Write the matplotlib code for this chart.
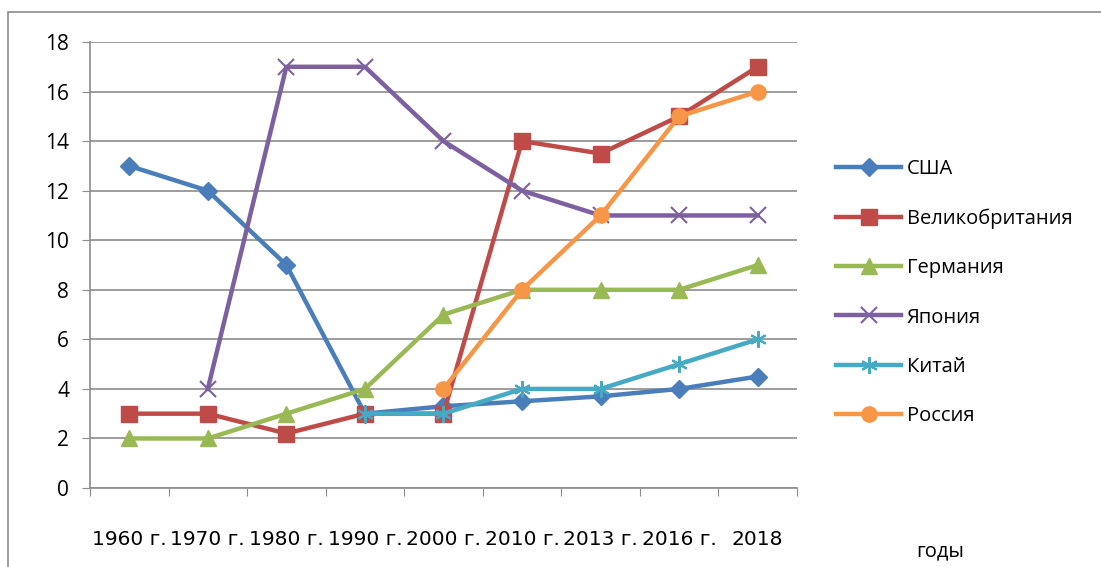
import matplotlib.pyplot as plt
import numpy as np
from matplotlib.patches import Rectangle

# данные
years = ['1960 г.', '1970 г.', '1980 г.', '1990 г.', '2000 г.', '2010 г.', '2013 г.', '2016 г.', '2018']
nan = np.nan
usa = [13, 12, 9, 3, 3.3, 3.5, 3.7, 4, 4.5]
uk = [3, 3, 2.2, 3, 3, 14, 13.5, 15, 17]
germany = [2, 2, 3, 4, 7, 8, 8, 8, 9]
japan = [nan, 4, 17, 17, 14, 12, 11, 11, 11]
china = [nan, nan, nan, 3, 3, 4, 4, 5, 6]
russia = [nan, nan, nan, nan, 4, 8, 11, 15, 16]

plt.rcParams['font.family'] = ['Open Sans', 'DejaVu Sans']

fig = plt.figure(figsize=(11.01, 5.67), dpi=100)
ax = fig.add_axes([0.0817, 0.1393, 0.6422, 0.7866])

# рамка диаграммы
fig.patches.append(Rectangle((8 / 1101, -0.1), 1.2, 1 - 12 / 567 + 0.1, transform=fig.transFigure,
                             fill=False, edgecolor='#8c8c8c', linewidth=1.2))

x = np.arange(len(years))
series = [
    ('США', usa, '#4A7EBB', 'D', 9),
    ('Великобритания', uk, '#BE4B48', 's', 11),
    ('Германия', germany, '#98B954', '^', 11),
    ('Япония', japan, '#7D60A0', 'x', 11),
    ('Китай', china, '#46AAC5', (6, 2, 0), 12),
    ('Россия', russia, '#F79646', 'o', 11),
]
for name, vals, col, mk, ms in series:
    ax.plot(x, vals, color=col, linewidth=3.2, marker=mk, markersize=ms,
            markeredgewidth=1.5 if mk in ('x', (6, 2, 0)) else 1, markeredgecolor=col,
            markerfacecolor=col, label=name)

ax.set_xlim(-0.5, len(years) - 0.5)
ax.set_ylim(0, 18)
ax.set_yticks(np.arange(0, 19, 2))
ax.set_xticks(np.arange(-0.5, len(years), 1), minor=False)
ax.set_xticklabels([])
ax.set_xticks(x, minor=True)
ax.set_xticklabels(years, minor=True, fontsize=14.5, family=['Liberation Sans Narrow', 'DejaVu Sans'])
ax.tick_params(axis='x', which='major', length=6, color='#8c8c8c', direction='out')
ax.tick_params(axis='x', which='minor', length=0, pad=30)
ax.tick_params(axis='y', length=6, color='#8c8c8c', labelsize=15, pad=9)

ax.grid(axis='y', color='#8c8c8c', linewidth=1.2)
ax.set_axisbelow(True)
for s in ['top', 'right']:
    ax.spines[s].set_visible(False)
for s in ['left', 'bottom']:
    ax.spines[s].set_color('#8c8c8c')
    ax.spines[s].set_linewidth(1.2)

ax.legend(loc='center left', bbox_to_anchor=(1.03, 0.438), frameon=False, fontsize=14.5,
          labelspacing=1.45, handlelength=3.2, handletextpad=0.3)

fig.text(940 / 1101, 1 - 551 / 567, 'годы', fontsize=14.5, ha='center', va='center')

fig.savefig('out.png', dpi=100)
